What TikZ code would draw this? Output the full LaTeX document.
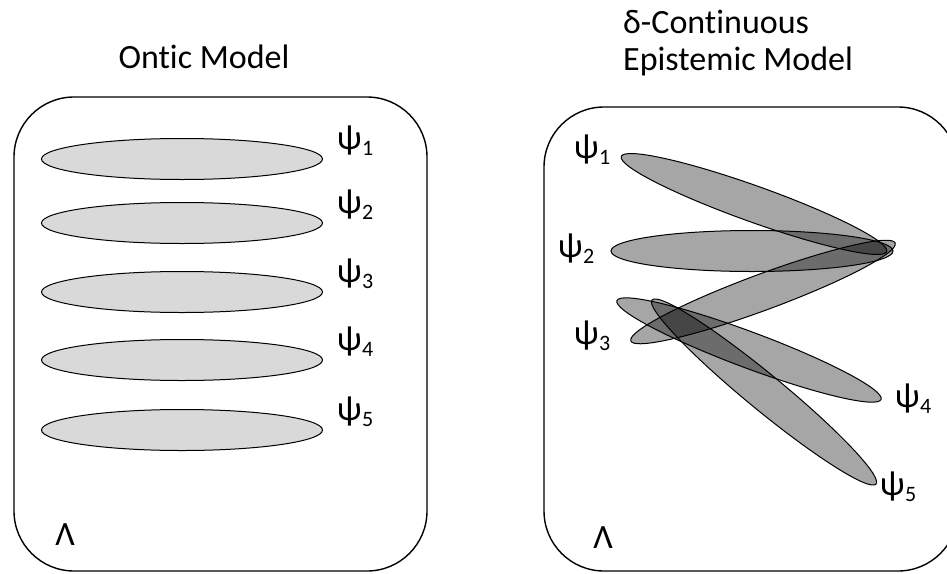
\documentclass[tikz,border=0pt]{standalone}
\usepackage{fontspec}
\setmainfont{Carlito}[Ligatures=NoCommon]
\usetikzlibrary{shapes.geometric}
\newcommand\psilab[1]{{\fontsize{35}{36}\selectfont ψ\kern0.5pt\raisebox{-6pt}{\fontsize{22}{23}\selectfont #1}}}
\tikzset{
  panel/.style={draw=black, line width=1.4pt, rounded corners=60pt},
  flatell/.style={ellipse, draw=black, line width=1pt, fill=black!15, minimum width=281pt, minimum height=41pt, inner sep=0pt},
  tiltell/.style={ellipse, draw=black, line width=1pt, fill=black, fill opacity=0.35, draw opacity=1, minimum width=282pt, minimum height=36pt, inner sep=0pt},
  lbl/.style={inner sep=0pt, text opacity=1},
  title/.style={inner sep=0pt, font=\fontsize{34}{37}\selectfont},
  lam/.style={inner sep=0pt, font=\fontsize{34}{36}\selectfont}
}
\begin{document}
\begin{tikzpicture}[x=1pt,y=-1pt]
\useasboundingbox (0,0) rectangle (947,573);
\fill[white] (0,0) rectangle (947,573);
\clip (0,0) rectangle (947,573);
% titles
\node[title, anchor=base] (t1) at (204,68) {Ontic Model};
\node[title, anchor=base west] (t2a) at (623,33) {δ-Continuous};
\node[title, anchor=base west] (t2b) at (623,70) {Epistemic Model};
% panels
\draw[panel] (14,97) rectangle (427,571);
\draw[panel] (544,107) rectangle (958,571);
% left ellipses
\node[flatell] (l1) at (182,159) {};
\node[flatell] (l2) at (182,223) {};
\node[flatell] (l3) at (182,292) {};
\node[flatell] (l4) at (182,360) {};
\node[flatell] (l5) at (182,430) {};
\node[lbl] (lp1) at (355,141) {\psilab{1}};
\node[lbl] (lp2) at (355,205) {\psilab{2}};
\node[lbl] (lp3) at (355,274) {\psilab{3}};
\node[lbl] (lp4) at (355,342) {\psilab{4}};
\node[lbl] (lp5) at (355,412) {\psilab{5}};
\node[lam] (lam1) at (65,535) {Λ};
% right ellipses
\node[tiltell, rotate=-19.7] (r1) at (754,204) {};
\node[tiltell, minimum height=41pt] (r2) at (752,251) {};
\node[tiltell, rotate=20.3] (r3) at (763,292) {};
\node[tiltell, rotate=-20.5] (r4) at (749,350) {};
\node[tiltell, rotate=-39.4, minimum width=290pt] (r5) at (764,392) {};
\node[lbl] (rp1) at (592,150) {\psilab{1}};
\node[lbl] (rp2) at (576,249) {\psilab{2}};
\node[lbl] (rp3) at (592,336) {\psilab{3}};
\node[lbl] (rp4) at (913,399) {\psilab{4}};
\node[lbl] (rp5) at (898,487) {\psilab{5}};
\node[lam] (lam2) at (603,538) {Λ};
\end{tikzpicture}
\end{document}
